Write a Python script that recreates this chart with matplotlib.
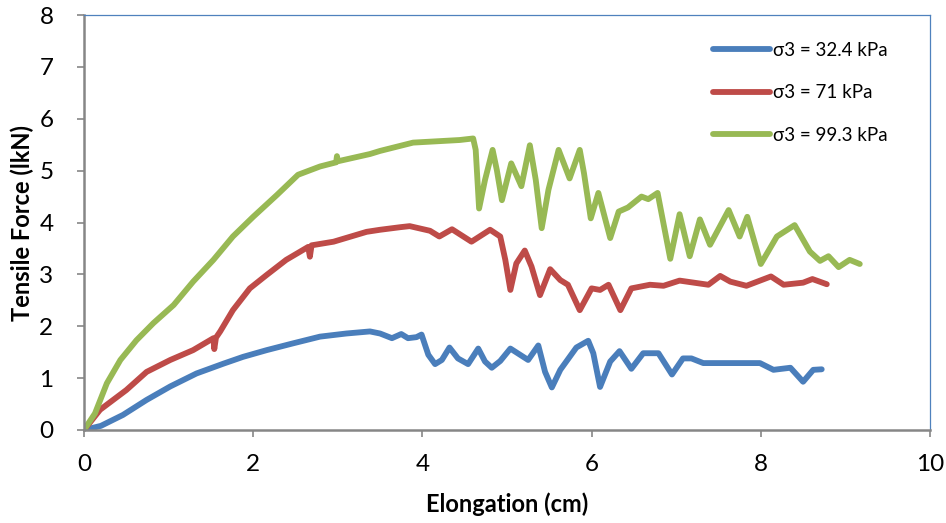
import matplotlib
matplotlib.use("Agg")
import matplotlib.pyplot as plt

plt.rcParams['font.family'] = ['Lato', 'DejaVu Sans']

# elongation (cm) / tensile force (kN)
x_32 = [0, 0.20, 0.46, 0.74, 1.02, 1.33, 1.65, 1.88, 2.16, 2.47, 2.79, 3.10, 3.38, 3.50,
        3.64, 3.75, 3.83, 3.93, 3.99, 4.07, 4.15, 4.23, 4.32, 4.42, 4.54, 4.66, 4.74,
        4.82, 4.92, 5.04, 5.25, 5.37, 5.45, 5.53, 5.63, 5.82, 5.96, 6.02, 6.10, 6.22,
        6.33, 6.47, 6.61, 6.79, 6.95, 7.08, 7.18, 7.32, 7.64, 7.99, 8.15, 8.35, 8.50,
        8.62, 8.72]
y_32 = [0, 0.08, 0.29, 0.58, 0.84, 1.09, 1.28, 1.41, 1.54, 1.67, 1.80, 1.86, 1.90, 1.86,
        1.77, 1.85, 1.77, 1.79, 1.84, 1.45, 1.27, 1.35, 1.59, 1.38, 1.27, 1.57, 1.32,
        1.20, 1.33, 1.57, 1.35, 1.63, 1.12, 0.82, 1.16, 1.59, 1.72, 1.48, 0.83, 1.32,
        1.52, 1.18, 1.48, 1.48, 1.07, 1.38, 1.38, 1.29, 1.29, 1.29, 1.16, 1.20, 0.93,
        1.16, 1.17]

x_71 = [0, 0.19, 0.50, 0.74, 1.02, 1.29, 1.53, 1.54, 1.56, 1.61, 1.76, 1.96, 2.16, 2.39,
        2.65, 2.67, 2.69, 2.95, 3.34, 3.50, 3.74, 3.85, 4.09, 4.20, 4.35, 4.58, 4.80,
        4.92, 4.98, 5.04, 5.11, 5.21, 5.29, 5.39, 5.51, 5.63, 5.72, 5.86, 6.00, 6.10,
        6.20, 6.34, 6.47, 6.69, 6.85, 7.04, 7.38, 7.52, 7.64, 7.83, 8.12, 8.27, 8.50,
        8.61, 8.78]
y_71 = [0, 0.39, 0.77, 1.12, 1.35, 1.54, 1.77, 1.56, 1.78, 1.90, 2.31, 2.73, 2.99, 3.28,
        3.53, 3.34, 3.56, 3.63, 3.82, 3.86, 3.91, 3.93, 3.84, 3.73, 3.87, 3.63, 3.86,
        3.73, 3.28, 2.70, 3.21, 3.46, 3.15, 2.60, 3.10, 2.89, 2.80, 2.31, 2.73, 2.70,
        2.80, 2.31, 2.73, 2.80, 2.78, 2.88, 2.80, 2.97, 2.86, 2.78, 2.96, 2.80, 2.84,
        2.91, 2.81]

x_99 = [0, 0.13, 0.27, 0.43, 0.62, 0.82, 1.06, 1.29, 1.53, 1.76, 2.00, 2.28, 2.53, 2.79,
        2.98, 2.99, 3.00, 3.38, 3.50, 3.89, 4.44, 4.60, 4.63, 4.67, 4.74, 4.83, 4.88,
        4.94, 5.05, 5.17, 5.27, 5.34, 5.41, 5.49, 5.61, 5.74, 5.86, 5.91, 5.99, 6.08,
        6.22, 6.32, 6.43, 6.59, 6.67, 6.78, 6.93, 7.04, 7.16, 7.28, 7.40, 7.62, 7.75,
        7.84, 8.00, 8.19, 8.40, 8.58, 8.70, 8.80, 8.92, 9.05, 9.17]
y_99 = [0, 0.32, 0.90, 1.35, 1.73, 2.06, 2.41, 2.86, 3.28, 3.73, 4.11, 4.53, 4.92, 5.08,
        5.16, 5.28, 5.18, 5.32, 5.38, 5.54, 5.59, 5.62, 5.40, 4.27, 4.82, 5.40, 5.01,
        4.43, 5.14, 4.70, 5.49, 4.82, 3.89, 4.63, 5.40, 4.85, 5.40, 4.95, 4.08, 4.57,
        3.70, 4.21, 4.29, 4.50, 4.45, 4.57, 3.30, 4.16, 3.35, 4.06, 3.57, 4.24, 3.73,
        4.11, 3.20, 3.73, 3.95, 3.44, 3.26, 3.35, 3.14, 3.28, 3.20]

labels = ['σ3 = 32.4 kPa', 'σ3 = 71 kPa', 'σ3 = 99.3 kPa']
colors = ['#4A7EBB', '#BE4B48', '#98B954']

fig = plt.figure(figsize=(9.46, 5.23), dpi=100)
ax = fig.add_axes([84/946, 1 - 430/523, 846/946, 415/523])

for xs, ys, lab, c in zip([x_32, x_71, x_99], [y_32, y_71, y_99], labels, colors):
    ax.plot(xs, ys, color=c, lw=4.2, label=lab, solid_joinstyle='round',
            solid_capstyle='round')

ax.set_xlim(0, 10)
ax.set_ylim(0, 8)
ax.set_xticks(range(0, 11, 2))
ax.set_yticks(range(0, 9))

for s in ['left', 'bottom']:
    ax.spines[s].set_color('#868686')
    ax.spines[s].set_linewidth(1.8)
for s in ['top', 'right']:
    ax.spines[s].set_color('#4F81BD')
    ax.spines[s].set_linewidth(0.9)

ax.tick_params(axis='both', direction='out', length=5, width=1.2, color='#868686',
               labelsize=17.5)
ax.tick_params(axis='y', pad=17)
ax.tick_params(axis='x', pad=12)

ax.set_xlabel('Elongation (cm)', fontsize=17, fontweight='bold', labelpad=13)
ax.set_ylabel('Tensile Force (lkN)', fontsize=17, fontweight='bold', labelpad=4)

ax.legend(loc='upper left', bbox_to_anchor=(0.744, 0.935), frameon=False,
          fontsize=13.5, handlelength=3.0, handletextpad=0.2, labelspacing=1.35,
          borderpad=0, borderaxespad=0)

fig.savefig('out.png', dpi=100)
